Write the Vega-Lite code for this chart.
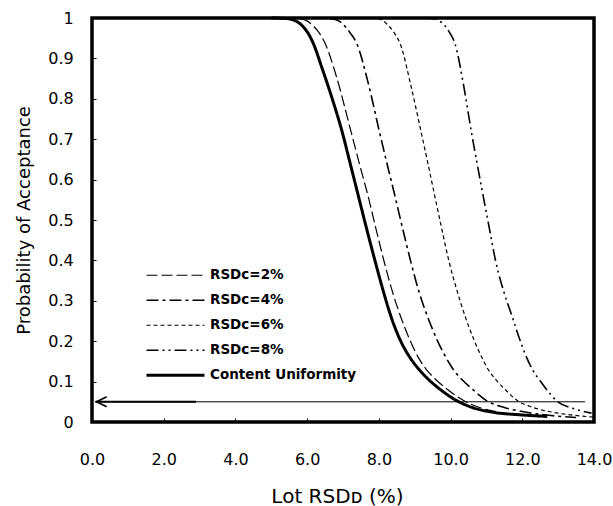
{
  "$schema": "https://vega.github.io/schema/vega-lite/v6.json",
  "width": 502,
  "height": 404,
  "autosize": {"type": "none"},
  "padding": {"left": 92, "top": 18, "right": 19, "bottom": 84},
  "background": "white",
  "config": {
    "view": {"stroke": "black", "strokeWidth": 3.5},
    "font": "DejaVu Sans",
    "axis": {"labelColor": "black", "titleColor": "black", "tickColor": "black", "grid": false, "domain": false}
  },
  "datasets": {
    "curves": [
      {"series": "Content Uniformity", "x": 5.0, "p": 1.0},
      {"series": "Content Uniformity", "x": 5.4, "p": 0.999},
      {"series": "Content Uniformity", "x": 5.65, "p": 0.994},
      {"series": "Content Uniformity", "x": 5.85, "p": 0.982},
      {"series": "Content Uniformity", "x": 6.0, "p": 0.966},
      {"series": "Content Uniformity", "x": 6.17, "p": 0.9375},
      {"series": "Content Uniformity", "x": 6.4, "p": 0.88},
      {"series": "Content Uniformity", "x": 6.7, "p": 0.8},
      {"series": "Content Uniformity", "x": 6.96, "p": 0.7235},
      {"series": "Content Uniformity", "x": 7.2, "p": 0.64},
      {"series": "Content Uniformity", "x": 7.43, "p": 0.559},
      {"series": "Content Uniformity", "x": 7.66, "p": 0.478},
      {"series": "Content Uniformity", "x": 7.89, "p": 0.4},
      {"series": "Content Uniformity", "x": 8.12, "p": 0.325},
      {"series": "Content Uniformity", "x": 8.35, "p": 0.258},
      {"series": "Content Uniformity", "x": 8.6, "p": 0.202},
      {"series": "Content Uniformity", "x": 8.88, "p": 0.158},
      {"series": "Content Uniformity", "x": 9.15, "p": 0.127},
      {"series": "Content Uniformity", "x": 9.4, "p": 0.104},
      {"series": "Content Uniformity", "x": 9.75, "p": 0.078},
      {"series": "Content Uniformity", "x": 10.17, "p": 0.053},
      {"series": "Content Uniformity", "x": 10.6, "p": 0.036},
      {"series": "Content Uniformity", "x": 11.19, "p": 0.024},
      {"series": "Content Uniformity", "x": 11.9, "p": 0.018},
      {"series": "Content Uniformity", "x": 12.69, "p": 0.014},
      {"series": "RSDc=2%", "x": 5.0, "p": 1.0},
      {"series": "RSDc=2%", "x": 5.7, "p": 0.999},
      {"series": "RSDc=2%", "x": 5.97, "p": 0.994},
      {"series": "RSDc=2%", "x": 6.15, "p": 0.982},
      {"series": "RSDc=2%", "x": 6.32, "p": 0.965},
      {"series": "RSDc=2%", "x": 6.5, "p": 0.9375},
      {"series": "RSDc=2%", "x": 6.8, "p": 0.86},
      {"series": "RSDc=2%", "x": 7.24, "p": 0.713},
      {"series": "RSDc=2%", "x": 7.47, "p": 0.635},
      {"series": "RSDc=2%", "x": 7.7, "p": 0.559},
      {"series": "RSDc=2%", "x": 7.92, "p": 0.478},
      {"series": "RSDc=2%", "x": 8.15, "p": 0.396},
      {"series": "RSDc=2%", "x": 8.38, "p": 0.322},
      {"series": "RSDc=2%", "x": 8.62, "p": 0.258},
      {"series": "RSDc=2%", "x": 8.86, "p": 0.204},
      {"series": "RSDc=2%", "x": 9.1, "p": 0.16},
      {"series": "RSDc=2%", "x": 9.35, "p": 0.127},
      {"series": "RSDc=2%", "x": 9.6, "p": 0.104},
      {"series": "RSDc=2%", "x": 9.95, "p": 0.078},
      {"series": "RSDc=2%", "x": 10.36, "p": 0.053},
      {"series": "RSDc=2%", "x": 10.8, "p": 0.036},
      {"series": "RSDc=2%", "x": 11.38, "p": 0.024},
      {"series": "RSDc=2%", "x": 12.0, "p": 0.017},
      {"series": "RSDc=2%", "x": 12.7, "p": 0.012},
      {"series": "RSDc=4%", "x": 6.0, "p": 1.0},
      {"series": "RSDc=4%", "x": 6.65, "p": 0.999},
      {"series": "RSDc=4%", "x": 6.88, "p": 0.993},
      {"series": "RSDc=4%", "x": 7.05, "p": 0.98},
      {"series": "RSDc=4%", "x": 7.2, "p": 0.963},
      {"series": "RSDc=4%", "x": 7.38, "p": 0.9375},
      {"series": "RSDc=4%", "x": 7.7, "p": 0.84},
      {"series": "RSDc=4%", "x": 8.03, "p": 0.713},
      {"series": "RSDc=4%", "x": 8.24, "p": 0.635},
      {"series": "RSDc=4%", "x": 8.45, "p": 0.559},
      {"series": "RSDc=4%", "x": 8.66, "p": 0.48},
      {"series": "RSDc=4%", "x": 8.89, "p": 0.397},
      {"series": "RSDc=4%", "x": 9.12, "p": 0.322},
      {"series": "RSDc=4%", "x": 9.37, "p": 0.258},
      {"series": "RSDc=4%", "x": 9.62, "p": 0.204},
      {"series": "RSDc=4%", "x": 9.87, "p": 0.16},
      {"series": "RSDc=4%", "x": 10.1, "p": 0.127},
      {"series": "RSDc=4%", "x": 10.33, "p": 0.104},
      {"series": "RSDc=4%", "x": 10.65, "p": 0.078},
      {"series": "RSDc=4%", "x": 11.0, "p": 0.053},
      {"series": "RSDc=4%", "x": 11.5, "p": 0.036},
      {"series": "RSDc=4%", "x": 12.12, "p": 0.024},
      {"series": "RSDc=4%", "x": 12.8, "p": 0.016},
      {"series": "RSDc=4%", "x": 13.5, "p": 0.011},
      {"series": "RSDc=6%", "x": 7.0, "p": 1.0},
      {"series": "RSDc=6%", "x": 7.9, "p": 0.999},
      {"series": "RSDc=6%", "x": 8.12, "p": 0.993},
      {"series": "RSDc=6%", "x": 8.28, "p": 0.98},
      {"series": "RSDc=6%", "x": 8.43, "p": 0.963},
      {"series": "RSDc=6%", "x": 8.59, "p": 0.9375},
      {"series": "RSDc=6%", "x": 8.9, "p": 0.83},
      {"series": "RSDc=6%", "x": 9.19, "p": 0.713},
      {"series": "RSDc=6%", "x": 9.38, "p": 0.635},
      {"series": "RSDc=6%", "x": 9.56, "p": 0.559},
      {"series": "RSDc=6%", "x": 9.75, "p": 0.48},
      {"series": "RSDc=6%", "x": 9.95, "p": 0.4},
      {"series": "RSDc=6%", "x": 10.18, "p": 0.325},
      {"series": "RSDc=6%", "x": 10.42, "p": 0.258},
      {"series": "RSDc=6%", "x": 10.65, "p": 0.204},
      {"series": "RSDc=6%", "x": 10.87, "p": 0.16},
      {"series": "RSDc=6%", "x": 11.07, "p": 0.127},
      {"series": "RSDc=6%", "x": 11.27, "p": 0.104},
      {"series": "RSDc=6%", "x": 11.55, "p": 0.078},
      {"series": "RSDc=6%", "x": 11.86, "p": 0.053},
      {"series": "RSDc=6%", "x": 12.3, "p": 0.036},
      {"series": "RSDc=6%", "x": 12.86, "p": 0.024},
      {"series": "RSDc=6%", "x": 13.4, "p": 0.017},
      {"series": "RSDc=6%", "x": 14.0, "p": 0.012},
      {"series": "RSDc=8%", "x": 8.5, "p": 1.0},
      {"series": "RSDc=8%", "x": 9.45, "p": 0.999},
      {"series": "RSDc=8%", "x": 9.68, "p": 0.993},
      {"series": "RSDc=8%", "x": 9.85, "p": 0.98},
      {"series": "RSDc=8%", "x": 9.98, "p": 0.963},
      {"series": "RSDc=8%", "x": 10.12, "p": 0.9375},
      {"series": "RSDc=8%", "x": 10.37, "p": 0.83},
      {"series": "RSDc=8%", "x": 10.59, "p": 0.713},
      {"series": "RSDc=8%", "x": 10.75, "p": 0.635},
      {"series": "RSDc=8%", "x": 10.91, "p": 0.559},
      {"series": "RSDc=8%", "x": 11.08, "p": 0.48},
      {"series": "RSDc=8%", "x": 11.27, "p": 0.393},
      {"series": "RSDc=8%", "x": 11.5, "p": 0.318},
      {"series": "RSDc=8%", "x": 11.73, "p": 0.258},
      {"series": "RSDc=8%", "x": 11.93, "p": 0.204},
      {"series": "RSDc=8%", "x": 12.12, "p": 0.16},
      {"series": "RSDc=8%", "x": 12.3, "p": 0.127},
      {"series": "RSDc=8%", "x": 12.48, "p": 0.104},
      {"series": "RSDc=8%", "x": 12.7, "p": 0.078},
      {"series": "RSDc=8%", "x": 12.95, "p": 0.053},
      {"series": "RSDc=8%", "x": 13.4, "p": 0.034},
      {"series": "RSDc=8%", "x": 13.93, "p": 0.022}
    ],
    "refline": [{"x": 0.1, "x2": 13.75, "p": 0.05}],
    "arrowshaft": [{"x": 0.1, "x2": 2.9, "p": 0.05}],
    "arrowhead": [{"x": 0.27, "p": 0.05}]
  },
  "layer": [
    {
      "data": {"name": "curves"},
      "mark": {"type": "line", "interpolate": "monotone", "stroke": "black"},
      "encoding": {
        "x": {
          "field": "x", "type": "quantitative",
          "scale": {"domain": [0, 14], "nice": false, "zero": false},
          "axis": {
            "title": "Lot RSDᴅ (%)",
            "values": [0, 2, 4, 6, 8, 10, 12, 14],
            "format": ".1f",
            "tickSize": -4,
            "tickWidth": 1,
            "labelPadding": 33,
            "labelDx": -4,
            "labelFontSize": 16,
            "labelFlush": false,
            "titleFontSize": 20,
            "titleFontWeight": "normal",
            "titleBaseline": "alphabetic",
            "titleX": 245,
            "titleY": 80
          }
        },
        "y": {
          "field": "p", "type": "quantitative",
          "scale": {"domain": [0, 1], "nice": false},
          "axis": {
            "title": "Probability of Acceptance",
            "values": [0, 0.1, 0.2, 0.3, 0.4, 0.5, 0.6, 0.7, 0.8, 0.9, 1],
            "format": "~g",
            "tickSize": -4,
            "tickWidth": 1,
            "labelPadding": 22.7,
            "labelFontSize": 16,
            "labelFlush": false,
            "titleFontSize": 18,
            "titleFontWeight": "normal",
            "titleBaseline": "alphabetic",
            "titleAngle": -90,
            "titleX": -62.7,
            "titleY": 202
          }
        },
        "detail": {"field": "series"},
        "strokeDash": {
          "field": "series", "type": "ordinal",
          "scale": {
            "domain": ["RSDc=2%", "RSDc=4%", "RSDc=6%", "RSDc=8%", "Content Uniformity"],
            "range": [[11, 4], [12, 4, 3, 4], [4, 3], [12, 4, 2, 4, 2, 4], [1, 0]]
          },
          "legend": {
            "title": null,
            "orient": "none",
            "legendX": 53,
            "legendY": 245,
            "padding": 0,
            "rowPadding": 0,
            "clipHeight": 24.5,
            "symbolType": "stroke",
            "symbolSize": 3364,
            "symbolStrokeColor": "black",
            "labelOffset": 4,
            "labelFont": "DejaVu Sans",
            "labelFontSize": 13.5,
            "labelFontWeight": "bold",
            "labelColor": "black"
          }
        },
        "strokeWidth": {
          "field": "series", "type": "ordinal",
          "scale": {
            "type": "ordinal",
            "domain": ["RSDc=2%", "RSDc=4%", "RSDc=6%", "RSDc=8%", "Content Uniformity"],
            "range": [1.2, 1.6, 1.2, 1.6, 3]
          },
          "legend": {
            "title": null,
            "orient": "none",
            "legendX": 53,
            "legendY": 245,
            "padding": 0,
            "rowPadding": 0,
            "clipHeight": 24.5,
            "symbolType": "stroke",
            "symbolSize": 3364,
            "symbolStrokeColor": "black",
            "labelOffset": 4,
            "labelFont": "DejaVu Sans",
            "labelFontSize": 13.5,
            "labelFontWeight": "bold",
            "labelColor": "black"
          }
        }
      }
    },
    {
      "data": {"name": "refline"},
      "mark": {"type": "rule", "stroke": "black", "strokeWidth": 1},
      "encoding": {
        "x": {"field": "x", "type": "quantitative"},
        "x2": {"field": "x2"},
        "y": {"field": "p", "type": "quantitative"}
      }
    },
    {
      "data": {"name": "arrowshaft"},
      "mark": {"type": "rule", "stroke": "black", "strokeWidth": 2},
      "encoding": {
        "x": {"field": "x", "type": "quantitative"},
        "x2": {"field": "x2"},
        "y": {"field": "p", "type": "quantitative"}
      }
    },
    {
      "data": {"name": "arrowhead"},
      "mark": {"type": "point", "shape": "M1,-1L-1,0L1,1", "filled": false, "stroke": "black", "strokeWidth": 1.8, "size": 100, "opacity": 1},
      "encoding": {
        "x": {"field": "x", "type": "quantitative"},
        "y": {"field": "p", "type": "quantitative"}
      }
    }
  ]
}
